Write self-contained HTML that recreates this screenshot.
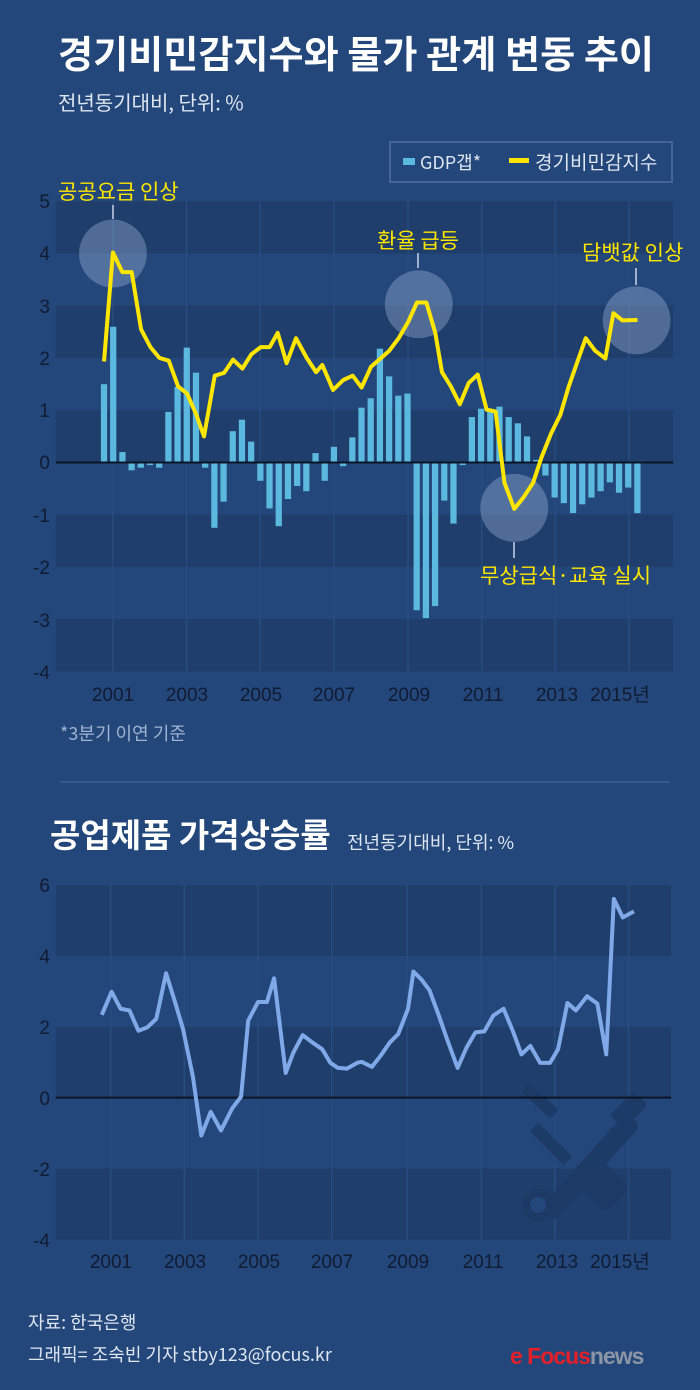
<!DOCTYPE html>
<html><head><meta charset="utf-8"><style>
body{margin:0;background:#23477a;}
svg{display:block;font-family:"Liberation Sans","Noto Sans CJK KR",sans-serif;}
</style></head><body>
<svg width="700" height="1390" viewBox="0 0 700 1390">
<rect width="700" height="1390" fill="#23477a"/>
<text x="58" y="68" fill="#fff" font-size="38" font-weight="bold" font-family="Noto Sans CJK KR,sans-serif" textLength="596" lengthAdjust="spacingAndGlyphs">경기비민감지수와 물가 관계 변동 추이</text>
<text x="58" y="110" fill="#dfe6f0" font-size="20" font-family="Noto Sans CJK KR,sans-serif">전년동기대비, 단위: %</text>
<rect x="390" y="142" width="282" height="40" fill="none" stroke="#4f6f9e" stroke-width="1.5"/>
<rect x="403" y="158" width="12" height="7" fill="#5bb8de"/>
<text x="420" y="169" fill="#dfe6f0" font-size="18" font-family="Noto Sans CJK KR,sans-serif">GDP갭*</text>
<rect x="509" y="158" width="20" height="5" fill="#ffe600"/>
<text x="535" y="169" fill="#dfe6f0" font-size="19" font-family="Noto Sans CJK KR,sans-serif">경기비민감지수</text>

<g transform="translate(0,140) scale(0.44643,0.35714)">
<g fill="#1f3e6b">
<rect x="125" y="172" width="1383" height="146"/>
<rect x="125" y="464" width="1383" height="146"/>
<rect x="125" y="757" width="1383" height="146"/>
<rect x="125" y="1049" width="1383" height="146"/>
<rect x="125" y="1342" width="1383" height="146"/>
</g>
<g stroke="#284c80" stroke-width="1.5">
<line x1="253" y1="172" x2="253" y2="1488" vector-effect="non-scaling-stroke"/>
<line x1="418" y1="172" x2="418" y2="1488" vector-effect="non-scaling-stroke"/>
<line x1="583" y1="172" x2="583" y2="1488" vector-effect="non-scaling-stroke"/>
<line x1="748" y1="172" x2="748" y2="1488" vector-effect="non-scaling-stroke"/>
<line x1="914" y1="172" x2="914" y2="1488" vector-effect="non-scaling-stroke"/>
<line x1="1079" y1="172" x2="1079" y2="1488" vector-effect="non-scaling-stroke"/>
<line x1="1244" y1="172" x2="1244" y2="1488" vector-effect="non-scaling-stroke"/>
<line x1="1409" y1="172" x2="1409" y2="1488" vector-effect="non-scaling-stroke"/>
</g>
<g fill="rgba(140,165,205,0.45)">
<ellipse cx="253" cy="318" rx="76" ry="95"/>
<ellipse cx="938" cy="460" rx="76" ry="95"/>
<ellipse cx="1152" cy="1030" rx="76" ry="95"/>
<ellipse cx="1426" cy="505" rx="76" ry="95"/>
</g>
<g fill="#5bb8de">
<rect x="226" y="683.7" width="14" height="219.3"/>
<rect x="246.6" y="522.9" width="14" height="380.1"/>
<rect x="267.2" y="873.8" width="14" height="29.2"/>
<rect x="287.8" y="903" width="14" height="21.9"/>
<rect x="308.4" y="903" width="14" height="14.6"/>
<rect x="329" y="903" width="14" height="7.3"/>
<rect x="349.6" y="903" width="14" height="14.6"/>
<rect x="370.2" y="761.2" width="14" height="141.8"/>
<rect x="390.8" y="691" width="14" height="212"/>
<rect x="411.4" y="581.4" width="14" height="321.6"/>
<rect x="432" y="651.5" width="14" height="251.5"/>
<rect x="452.6" y="903" width="14" height="14.6"/>
<rect x="473.2" y="903" width="14" height="182.8"/>
<rect x="493.8" y="903" width="14" height="109.7"/>
<rect x="514.4" y="815.3" width="14" height="87.7"/>
<rect x="535" y="783.1" width="14" height="119.9"/>
<rect x="555.6" y="844.5" width="14" height="58.5"/>
<rect x="576.2" y="903" width="14" height="51.2"/>
<rect x="596.8" y="903" width="14" height="128.7"/>
<rect x="617.4" y="903" width="14" height="178.4"/>
<rect x="638" y="903" width="14" height="102.3"/>
<rect x="658.6" y="903" width="14" height="65.8"/>
<rect x="679.2" y="903" width="14" height="80.4"/>
<rect x="699.8" y="876.7" width="14" height="26.3"/>
<rect x="720.4" y="903" width="14" height="51.2"/>
<rect x="741" y="859.1" width="14" height="43.9"/>
<rect x="761.6" y="903" width="14" height="10.2"/>
<rect x="782.2" y="832.8" width="14" height="70.2"/>
<rect x="802.8" y="749.5" width="14" height="153.5"/>
<rect x="823.4" y="723.2" width="14" height="179.8"/>
<rect x="844" y="584.3" width="14" height="318.7"/>
<rect x="864.6" y="661.8" width="14" height="241.2"/>
<rect x="885.2" y="715.9" width="14" height="187.1"/>
<rect x="905.8" y="710" width="14" height="193"/>
<rect x="926.4" y="903" width="14" height="413.7"/>
<rect x="947" y="903" width="14" height="435.7"/>
<rect x="967.6" y="903" width="14" height="402.1"/>
<rect x="988.2" y="903" width="14" height="106.7"/>
<rect x="1008.8" y="903" width="14" height="171.1"/>
<rect x="1029.4" y="903" width="14" height="7.3"/>
<rect x="1050" y="775.8" width="14" height="127.2"/>
<rect x="1070.6" y="752.4" width="14" height="150.6"/>
<rect x="1091.2" y="756.8" width="14" height="146.2"/>
<rect x="1111.8" y="746.6" width="14" height="156.4"/>
<rect x="1132.4" y="775.8" width="14" height="127.2"/>
<rect x="1153" y="793.3" width="14" height="109.7"/>
<rect x="1173.6" y="829.9" width="14" height="73.1"/>
<rect x="1194.2" y="895.7" width="14" height="7.3"/>
<rect x="1214.8" y="903" width="14" height="36.6"/>
<rect x="1235.4" y="903" width="14" height="98"/>
<rect x="1256" y="903" width="14" height="114"/>
<rect x="1276.6" y="903" width="14" height="141.8"/>
<rect x="1297.2" y="903" width="14" height="117"/>
<rect x="1317.8" y="903" width="14" height="98"/>
<rect x="1338.4" y="903" width="14" height="80.4"/>
<rect x="1359" y="903" width="14" height="55.6"/>
<rect x="1379.6" y="903" width="14" height="84.8"/>
<rect x="1400.2" y="903" width="14" height="70.2"/>
<rect x="1420.8" y="903" width="14" height="141.8"/>
</g>
<line x1="125" y1="903" x2="1508" y2="903" stroke="#0b1426" stroke-width="2" vector-effect="non-scaling-stroke"/>
<polyline fill="none" stroke="#ffe600" stroke-width="4" stroke-linejoin="round" vector-effect="non-scaling-stroke" points="233,620 253,315 274,370 295,370 316,530 337,580 357,610 378,618 399,690 419,710 440,770 457,830 481,660 502,652 522,615 543,640 563,600 584,580 604,580 622,540 642,625 663,555 687,610 708,650 722,630 746,700 769,672 790,660 810,693 831,635 852,612 872,590 893,555 914,510 934,455 955,455 975,540 990,650 1010,690 1030,740 1050,680 1070,657 1090,755 1110,760 1130,960 1152,1033 1173,1000 1194,960 1214,885 1235,820 1255,770 1274,690 1295,615 1312,555 1333,590 1356,612 1374,485 1394,505 1428,504"/>
</g>
<g stroke="#c8d3e6" stroke-width="1.5">
<line x1="113" y1="205" x2="113" y2="219"/>
<line x1="418" y1="253" x2="418" y2="268"/>
<line x1="636" y1="268" x2="636" y2="285"/>
<line x1="514" y1="542" x2="514" y2="558"/>
</g>
<g fill="#ffe600" font-size="21" font-family="Noto Sans CJK KR,sans-serif">
<text x="58" y="199">공공요금 인상</text>
<text x="377" y="248">환율 급등</text>
<text x="582" y="260">담뱃값 인상</text>
<text x="480" y="583">무상급식·교육 실시</text>
</g>
<g fill="#111b33" font-size="19" text-anchor="end" font-family="Liberation Sans Narrow,Liberation Sans,sans-serif">
<text x="50" y="208">5</text><text x="50" y="260">4</text><text x="50" y="313">3</text><text x="50" y="365">2</text><text x="50" y="417">1</text><text x="50" y="469">0</text><text x="50" y="522">-1</text><text x="50" y="574">-2</text><text x="50" y="627">-3</text><text x="50" y="679">-4</text>
</g>
<g fill="#111b33" font-size="19" text-anchor="middle" font-family="Liberation Sans Narrow,Liberation Sans,sans-serif">
<text x="113" y="701">2001</text><text x="187" y="701">2003</text><text x="261" y="701">2005</text><text x="334" y="701">2007</text><text x="409" y="701">2009</text><text x="483" y="701">2011</text><text x="557" y="701">2013</text><text x="620" y="701">2015<tspan font-family="Noto Sans CJK KR,sans-serif">년</tspan></text>
</g>
<text x="60" y="740" fill="#9fb3d0" font-size="18" font-family="Noto Sans CJK KR,sans-serif">*3분기 이연 기준</text>
<line x1="60" y1="782" x2="670" y2="782" stroke="#3d5f90" stroke-width="1.5"/>

<text x="50" y="847" fill="#fff" font-size="33" font-weight="bold" font-family="Noto Sans CJK KR,sans-serif">공업제품 가격상승률</text>
<text x="347" y="849" fill="#dfe6f0" font-size="18" font-family="Noto Sans CJK KR,sans-serif">전년동기대비, 단위: %</text>

<g transform="translate(0,860) scale(0.44643,0.33806)">
<g fill="#1f3e6b">
<rect x="125" y="75" width="1378" height="209"/>
<rect x="125" y="494" width="1378" height="209"/>
<rect x="125" y="913" width="1378" height="210"/>
</g>
<g stroke="#284c80" stroke-width="1.5">
<line x1="248" y1="75" x2="248" y2="1123" vector-effect="non-scaling-stroke"/>
<line x1="413" y1="75" x2="413" y2="1123" vector-effect="non-scaling-stroke"/>
<line x1="578" y1="75" x2="578" y2="1123" vector-effect="non-scaling-stroke"/>
<line x1="743" y1="75" x2="743" y2="1123" vector-effect="non-scaling-stroke"/>
<line x1="912" y1="75" x2="912" y2="1123" vector-effect="non-scaling-stroke"/>
<line x1="1078" y1="75" x2="1078" y2="1123" vector-effect="non-scaling-stroke"/>
<line x1="1243" y1="75" x2="1243" y2="1123" vector-effect="non-scaling-stroke"/>
<line x1="1408" y1="75" x2="1408" y2="1123" vector-effect="non-scaling-stroke"/>
</g>
</g>
<g fill="#1d3a66" opacity="0.9">
<rect x="580" y="1102" width="20" height="130" rx="8" transform="rotate(42 590 1167)"/>
<circle cx="538" cy="1205" r="16"/>
<rect x="520" y="1095" width="40" height="12" rx="4" transform="rotate(42 540 1101)"/>
<rect x="545" y="1120" width="12" height="48" transform="rotate(-45 551 1144)"/>
<rect x="583" y="1160" width="36" height="48" rx="8" transform="rotate(-45 601 1184)"/>
<rect x="612" y="1100" width="34" height="20" rx="4" transform="rotate(-45 629 1110)"/>
</g>
<circle cx="538" cy="1205" r="8" fill="#23477a"/>
<g transform="translate(0,860) scale(0.44643,0.33806)">
<line x1="125" y1="703" x2="1503" y2="703" stroke="#0b1426" stroke-width="2" vector-effect="non-scaling-stroke"/>
<polyline fill="none" stroke="#7fa9e8" stroke-width="4" stroke-linejoin="round" vector-effect="non-scaling-stroke" points="228,458 250,390 270,440 290,445 310,505 330,495 350,470 372,335 392,420 410,500 432,640 451,815 472,745 495,800 520,735 540,700 556,475 578,420 598,420 614,350 640,630 657,570 678,518 700,540 722,560 740,600 757,615 777,617 800,600 810,597 833,612 852,580 873,540 892,515 914,440 926,330 945,355 962,385 983,460 1000,525 1025,615 1045,555 1065,510 1085,507 1105,460 1128,440 1150,510 1168,575 1188,550 1210,600 1232,600 1250,560 1271,423 1290,445 1315,403 1338,425 1358,575 1375,115 1395,170 1420,152"/>
</g>
<g fill="#111b33" font-size="19" text-anchor="end" font-family="Liberation Sans Narrow,Liberation Sans,sans-serif">
<text x="50" y="892">6</text><text x="50" y="963">4</text><text x="50" y="1034">2</text><text x="50" y="1105">0</text><text x="50" y="1176">-2</text><text x="50" y="1247">-4</text>
</g>
<g fill="#111b33" font-size="19" text-anchor="middle" font-family="Liberation Sans Narrow,Liberation Sans,sans-serif">
<text x="111" y="1268">2001</text><text x="185" y="1268">2003</text><text x="259" y="1268">2005</text><text x="332" y="1268">2007</text><text x="408" y="1268">2009</text><text x="483" y="1268">2011</text><text x="557" y="1268">2013</text><text x="620" y="1268">2015<tspan font-family="Noto Sans CJK KR,sans-serif">년</tspan></text>
</g>
<text x="28" y="1329" fill="#dfe6f0" font-size="18" font-family="Noto Sans CJK KR,sans-serif">자료: 한국은행</text>
<text x="28" y="1361" fill="#dfe6f0" font-size="18" font-family="Noto Sans CJK KR,sans-serif">그래픽= 조숙빈 기자 stby123@focus.kr</text>
<text x="510" y="1364" fill="#e3202a" font-size="23" font-weight="bold" letter-spacing="-1">e Focus<tspan fill="#8b95a5">news</tspan></text>
</svg>
</body></html>
